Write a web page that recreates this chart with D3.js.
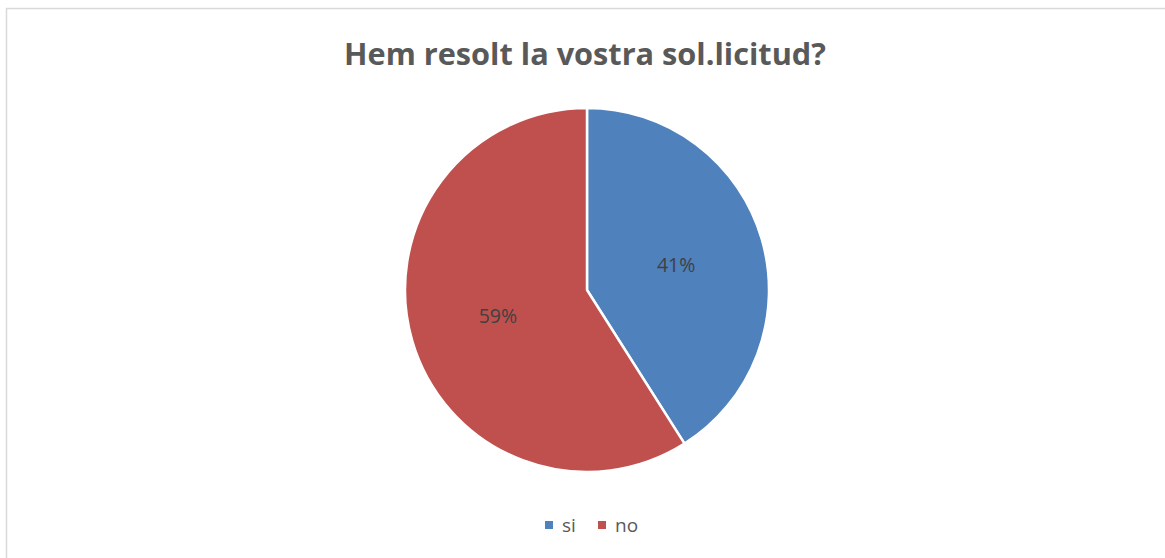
<!DOCTYPE html>
<html>
<head>
<meta charset="UTF-8">
<title>Hem resolt la vostra sol.licitud?</title>
<script src="https://cdn.jsdelivr.net/npm/d3@7/dist/d3.min.js"></script>
<style>
  body { margin: 0; background: #fff; }
  text { font-family: "Open Sans", "Liberation Sans", sans-serif; }
</style>
</head>
<body>
<svg id="chart" width="1165" height="558"></svg>
<script>
var titleText = "Hem resolt la vostra sol.licitud?";
var categories = ["si", "no"];
var values = [41, 59];
var colors = ["#4F81BD", "#C0504D"];

var width = 1165, height = 558;
var svg = d3.select("#chart");

// chart frame
svg.append("rect")
    .attr("x", 6.5).attr("y", 8.5)
    .attr("width", width + 10).attr("height", height + 10)
    .attr("fill", "#fff")
    .attr("stroke", "#d9d9d9")
    .attr("stroke-width", 1.5);

// title, scaled to the width in the picture
var title = svg.append("text")
    .attr("x", 585).attr("y", 65)
    .attr("text-anchor", "middle")
    .attr("font-weight", "bold")
    .attr("fill", "#595959")
    .attr("font-size", 100)
    .text(titleText);
var tw = title.node().getComputedTextLength();
title.attr("font-size", 100 * 482 / tw);

var cx = 587, cy = 290, radius = 182;
var color = d3.scaleOrdinal().domain(categories).range(colors);

var pie = d3.pie().sort(null).value(function(d) { return d.value; });
var data = categories.map(function(c, i) { return { name: c, value: values[i] }; });
var arcs = pie(data);

var arc = d3.arc().innerRadius(0).outerRadius(radius);
var labelArc = d3.arc().innerRadius(radius * 0.51).outerRadius(radius * 0.51);

var g = svg.append("g").attr("transform", "translate(" + cx + "," + cy + ")");

g.selectAll("path")
    .data(arcs)
    .enter()
    .append("path")
    .attr("d", arc)
    .attr("fill", function(d) { return color(d.data.name); })
    .attr("stroke", "#fff")
    .attr("stroke-width", 2.5)
    .attr("stroke-linejoin", "round");

var total = d3.sum(values);
g.selectAll("text.lbl")
    .data(arcs)
    .enter()
    .append("text")
    .attr("class", "lbl")
    .attr("transform", function(d) { return "translate(" + labelArc.centroid(d) + ")"; })
    .attr("text-anchor", "middle")
    .attr("dominant-baseline", "central")
    .attr("font-size", 19.5)
    .attr("fill", "#404040")
    .text(function(d) { return Math.round(d.data.value / total * 100) + "%"; });

// legend
var legendX = [545, 598];
var legend = svg.selectAll("g.legend")
    .data(categories)
    .enter()
    .append("g")
    .attr("class", "legend")
    .attr("transform", function(d, i) { return "translate(" + legendX[i] + ",521)"; });

legend.append("rect")
    .attr("width", 8).attr("height", 8)
    .attr("fill", function(d) { return color(d); });

legend.append("text")
    .attr("x", 17).attr("y", 11)
    .attr("font-size", 19)
    .attr("fill", "#595959")
    .text(function(d) { return d; });
</script>
</body>
</html>
